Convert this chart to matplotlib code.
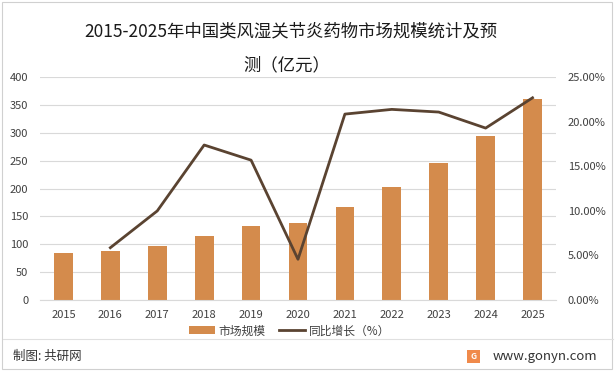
import matplotlib
matplotlib.use('Agg')
import matplotlib.pyplot as plt
from matplotlib.patches import Rectangle, Patch
from matplotlib.lines import Line2D
from matplotlib.ticker import FuncFormatter

plt.rcParams['font.family'] = ['Noto Sans CJK SC', 'DejaVu Sans']

# 数据
years = ['2015', '2016', '2017', '2018', '2019', '2020',
         '2021', '2022', '2023', '2024', '2025']
market_size = [85, 88.5, 97.5, 115.5, 133.4, 138.3, 166.8, 202.3, 245.6, 294, 361.4]
growth_years = years[1:]
growth = [5.87, 10.0, 17.4, 15.7, 4.57, 20.87, 21.4, 21.1, 19.3, 22.7]

BAR_COLOR = '#D48B4C'
LINE_COLOR = '#5A4331'
TEXT_COLOR = '#404040'

fig = plt.figure(figsize=(6.16, 3.71), dpi=100)
ax = fig.add_axes([0.0649, 0.1914, 0.8377, 0.6002])

x = list(range(len(years)))
ax.bar(x, market_size, width=0.4, color=BAR_COLOR, zorder=2)
ax.set_xlim(-0.5, len(years) - 0.5)
ax.set_ylim(0, 400)
ax.set_yticks(range(0, 401, 50))
ax.set_xticks(x)
ax.set_xticklabels(years)
ax.grid(True, axis='y', color='#D9D9D9', linewidth=0.8, zorder=0)
for s in ['top', 'right', 'left']:
    ax.spines[s].set_visible(False)
ax.spines['bottom'].set_color('#D9D9D9')
ax.tick_params(axis='both', length=0, labelsize=8, colors=TEXT_COLOR)
ax.tick_params(axis='y', pad=8.5)
ax.tick_params(axis='x', pad=7)

ax2 = ax.twinx()
gx = [years.index(y) for y in growth_years]
ax2.plot(gx, growth, color=LINE_COLOR, linewidth=2, zorder=3)
ax2.set_ylim(0, 25)
ax2.set_yticks(range(0, 26, 5))
ax2.yaxis.set_major_formatter(FuncFormatter(lambda v, p: f'{v:.2f}%'))
for s in ax2.spines.values():
    s.set_visible(False)
ax2.tick_params(axis='y', length=0, labelsize=8, colors=TEXT_COLOR, pad=8.5)

# 标题
fig.text(0.472, 0.915, '2015-2025年中国类风湿关节炎药物市场规模统计及预',
         ha='center', va='center', fontsize=12.5, color='#1a1a1a')
fig.text(0.465, 0.825, '测（亿元）', ha='center', va='center',
         fontsize=12.5, color='#1a1a1a')

# 图例
handles = [Patch(facecolor=BAR_COLOR, edgecolor='none'),
           Line2D([0], [0], color=LINE_COLOR, linewidth=2)]
fig.legend(handles, ['市场规模', '同比增长（%）'], loc='center',
           bbox_to_anchor=(0.47, 0.108), ncol=2, frameon=False,
           fontsize=8.5, handlelength=2.2, handleheight=0.7,
           columnspacing=1.2, handletextpad=0.3, labelcolor=TEXT_COLOR)

# 底部
fig.add_artist(Line2D([0.005, 0.995], [0.086, 0.086], color='#E0E0E0',
                      linewidth=0.8, transform=fig.transFigure))
fig.text(0.021, 0.04, '制图: 共研网', ha='left', va='center',
         fontsize=9, color='#333333')
fig.text(0.97, 0.04, 'www.gonyn.com', ha='right', va='center',
         fontsize=9.5, color='#333333')
fig.add_artist(Rectangle((0.758, 0.022), 0.021, 0.035, facecolor='#F08A4B',
                         edgecolor='none', transform=fig.transFigure))
fig.text(0.7685, 0.04, 'G', ha='center', va='center', fontsize=6,
         color='white', fontweight='bold')

# 外框
fig.add_artist(Rectangle((0.004, 0.006), 0.99, 0.988, fill=False,
                         edgecolor='#D0D0D0', linewidth=0.8,
                         transform=fig.transFigure))

fig.savefig('out.png', dpi=100)
